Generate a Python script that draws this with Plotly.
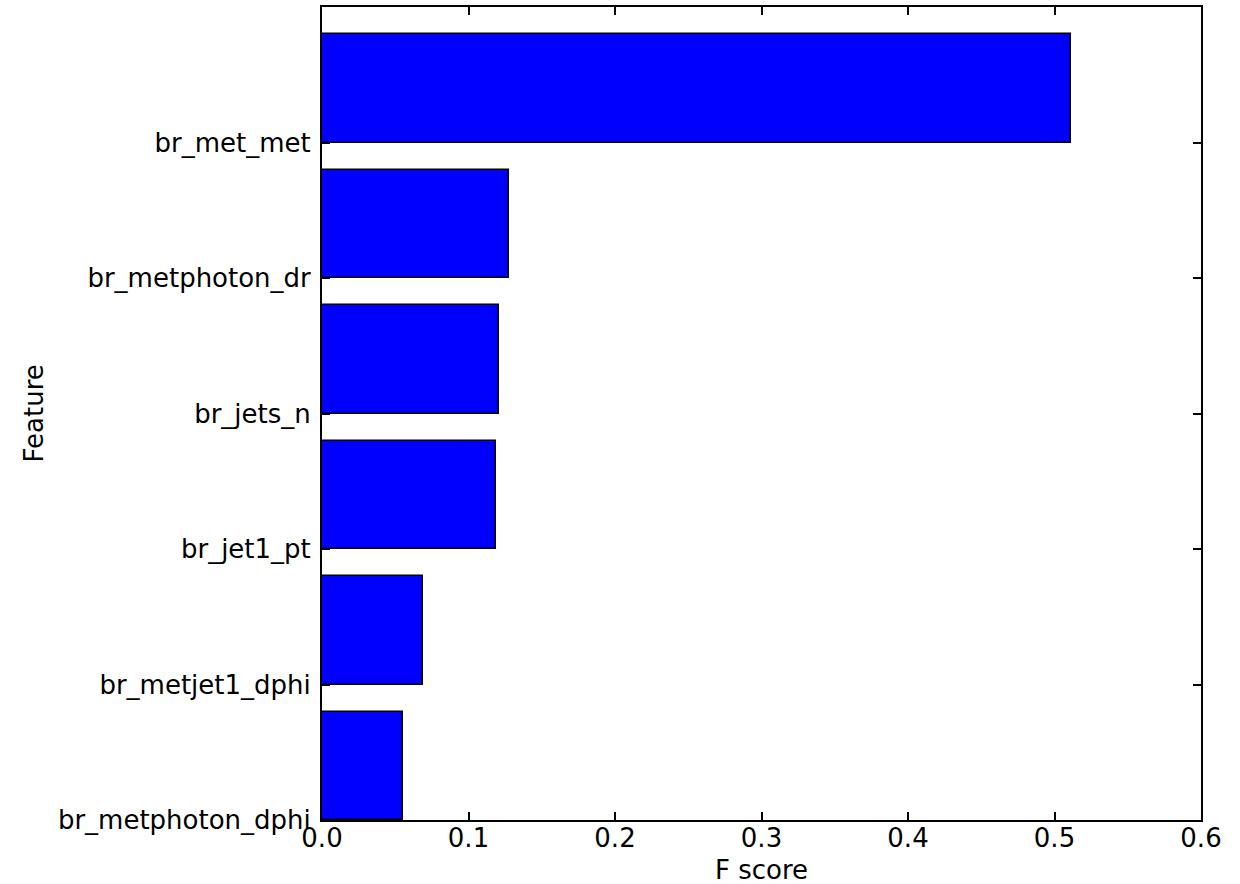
import plotly.graph_objects as go

# Feature importance (F score) per input branch, bottom to top
features = [
    "br_metphoton_dphi",
    "br_metjet1_dphi",
    "br_jet1_pt",
    "br_jets_n",
    "br_metphoton_dr",
    "br_met_met",
]
fscores = [0.0551, 0.0687, 0.1188, 0.1208, 0.1274, 0.5113]
xticks = [0.0, 0.1, 0.2, 0.3, 0.4, 0.5, 0.6]

bar_height = 0.8
positions = list(range(len(features)))
# bars sit on top of their tick (edge-aligned), like classic barh
centers = [p + bar_height / 2 for p in positions]

font = dict(family="DejaVu Sans", size=26, color="black")

fig = go.Figure(
    go.Bar(
        x=fscores,
        y=centers,
        orientation="h",
        width=bar_height,
        marker=dict(color="#0000ff", line=dict(color="black", width=1.5)),
        hoverinfo="skip",
    )
)

axis_common = dict(
    showgrid=False,
    zeroline=False,
    showline=True,
    linecolor="black",
    linewidth=2,
    mirror="allticks",
    ticks="inside",
    ticklen=8,
    tickwidth=1.5,
    tickcolor="black",
    tickfont=font,
    automargin=False,
)

fig.update_xaxes(
    range=[0, 0.6],
    tickvals=xticks,
    ticktext=[f"{v:.1f}" for v in xticks],
    ticklabelstandoff=-6,
    **axis_common,
)
fig.update_yaxes(
    range=[0, len(features)],
    tickvals=positions + [len(features)],
    ticktext=features + [""],
    ticklabelstandoff=4,
    **axis_common,
)

# axis titles placed as annotations relative to the plot frame
fig.add_annotation(
    text="F score", font=font, showarrow=False,
    xref="paper", yref="paper", x=0.5, y=0,
    xanchor="center", yanchor="middle", yshift=-50,
)
fig.add_annotation(
    text="Feature", font=font, showarrow=False, textangle=-90,
    xref="paper", yref="paper", x=0, y=0.5,
    xanchor="center", yanchor="middle", xshift=-289,
)

fig.update_layout(
    width=1240,
    height=884,
    margin=dict(l=322, r=39, t=7, b=64),
    plot_bgcolor="white",
    paper_bgcolor="white",
    showlegend=False,
    bargap=0,
)

fig.write_html("out.html")
